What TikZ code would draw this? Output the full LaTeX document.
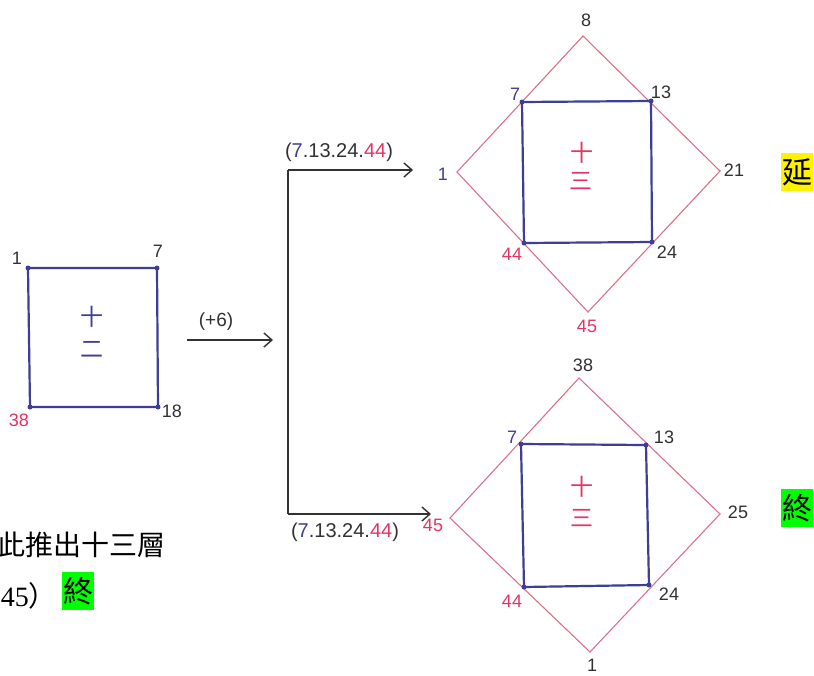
\documentclass[tikz,border=0pt]{standalone}
\usepackage{fontspec}
\setmainfont{Liberation Serif}
\newfontfamily\cjk{Noto Sans CJK TC}
\newfontfamily\hand{Liberation Sans}
\usetikzlibrary{arrows.meta}
\definecolor{pblue}{RGB}{62,62,150}
\definecolor{pred}{RGB}{228,52,100}
\definecolor{pline}{RGB}{222,112,140}
\definecolor{pgray}{RGB}{50,50,50}
\definecolor{hlgreen}{RGB}{0,255,0}
\begin{document}
\begin{tikzpicture}[x=1pt,y=-1pt,
  sq/.style={draw=pblue,line width=2.2pt,line join=round},
  dia/.style={draw=pline,line width=1.1pt},
  num/.style={font=\hand\fontsize{18}{18}\selectfont,text=pgray,inner sep=0pt},
  bnum/.style={num,text=pblue},
  rnum/.style={num,text=pred},
  han/.style={font=\cjk\fontsize{23}{23}\selectfont,inner sep=0pt},
  arr/.style={draw=pgray,line width=1.4pt,-{Straight Barb[length=8pt,width=14pt]}},
  dot/.style={circle,fill=pblue,inner sep=0pt,minimum size=5pt},
  hlbox/.style={font=\cjk\fontsize{30}{30}\selectfont,inner xsep=1pt,inner ysep=5pt,text=black},
  body/.style={font=\cjk\fontsize{28}{28}\selectfont,inner sep=0pt,text=black}
]
\useasboundingbox (0,0) rectangle (814,675);
\fill[white] (0,0) rectangle (814,675);

% ---------- left square ----------
\coordinate (la) at (28,268);
\coordinate (lb) at (157,268);
\coordinate (lc) at (158,407);
\coordinate (ld) at (30,407);
\draw[sq] (la) -- (lb) -- (lc) -- (ld) -- cycle;
\foreach \c in {la,lb,lc,ld} \node[dot] at (\c) {};
\node[num] (l1) at (17,258) {1};
\node[num] (l7) at (158,251) {7};
\node[rnum] (l38) at (19,420) {38};
\node[num] (l18) at (172,411) {18};
\node[han,text=pblue] (lshi) at (92,317) {十};
\node[han,text=pblue] (ler) at (92,349) {二};

% ---------- (+6) arrow ----------
\coordinate (a1) at (187,340);
\coordinate (a2) at (273,340);
\draw[arr] (a1) -- (a2);
\node[num,font=\hand\fontsize{19}{19}\selectfont] (p6) at (216,322) {(+6)};

% ---------- bracket ----------
\coordinate (bt) at (288,170);
\coordinate (bb) at (288,514);
\coordinate (et) at (413,170);
\coordinate (eb) at (431,514);
\draw[draw=pgray,line width=1.4pt] (bt) -- (bb);
\draw[arr] (bt) -- (et);
\draw[arr] (bb) -- (eb);
\node[num,font=\hand\fontsize{20}{20}\selectfont] (seqt) at (339,152) {(\textcolor{pblue}{7}.13.24.\textcolor{pred}{44})};
\node[num,font=\hand\fontsize{20}{20}\selectfont] (seqb) at (345,532) {(\textcolor{pblue}{7}.13.24.\textcolor{pred}{44})};

% ---------- top diamond ----------
\coordinate (t1) at (583,36);
\coordinate (r1) at (720,171);
\coordinate (b1) at (588,312);
\coordinate (w1) at (457,172);
\draw[dia] (t1) -- (r1) -- (b1) -- (w1) -- cycle;
\coordinate (s1a) at (522,102);
\coordinate (s1b) at (651,101);
\coordinate (s1c) at (652,242);
\coordinate (s1d) at (524,243);
\draw[sq] (s1a) -- (s1b) -- (s1c) -- (s1d) -- cycle;
\foreach \c in {s1a,s1b,s1c,s1d} \node[dot] at (\c) {};
\node[num] (n8) at (586,20) {8};
\node[bnum] (n7a) at (515,94) {7};
\node[num] (n13a) at (661,92) {13};
\node[bnum] (n1a) at (443,174) {1};
\node[num] (n21) at (734,170) {21};
\node[rnum] (n44a) at (512,254) {44};
\node[num] (n24a) at (667,252) {24};
\node[rnum] (n45a) at (587,326) {45};
\node[han,text=pred] (c1a) at (582,153) {十};
\node[han,text=pred] (c1b) at (581,181) {三};
\node[hlbox,fill=yellow] (yan) at (797,172) {延};

% ---------- bottom diamond ----------
\coordinate (t2) at (579,378);
\coordinate (r2) at (720,514);
\coordinate (b2) at (590,652);
\coordinate (w2) at (450,518);
\draw[dia] (t2) -- (r2) -- (b2) -- (w2) -- cycle;
\coordinate (s2a) at (521,444);
\coordinate (s2b) at (646,445);
\coordinate (s2c) at (649,585);
\coordinate (s2d) at (524,587);
\draw[sq] (s2a) -- (s2b) -- (s2c) -- (s2d) -- cycle;
\foreach \c in {s2a,s2b,s2c,s2d} \node[dot] at (\c) {};
\node[num] (n38) at (583,365) {38};
\node[bnum] (n7b) at (512,437) {7};
\node[num] (n13b) at (664,437) {13};
\node[rnum] (n45b) at (433,525) {45};
\node[num] (n25) at (738,512) {25};
\node[rnum] (n44b) at (512,601) {44};
\node[num] (n24b) at (669,594) {24};
\node[num] (n1b) at (592,665) {1};
\node[han,text=pred] (c2a) at (582,487) {十};
\node[han,text=pred] (c2b) at (582,518) {三};
\node[hlbox,fill=hlgreen] (zhong) at (797,508) {終};

% ---------- bottom-left text ----------
\begin{scope}
\clip (0,0) rectangle (814,675);
\node[body,anchor=east] (line1) at (166,545) {此推出十三層};
\node[font=\fontsize{28}{28}\selectfont,inner sep=0pt,anchor=east] (line2) at (57,596) {45\cjk{）}};
\node[hlbox,fill=hlgreen] (zhong2) at (78,591) {終};
\end{scope}
\end{tikzpicture}
\end{document}
